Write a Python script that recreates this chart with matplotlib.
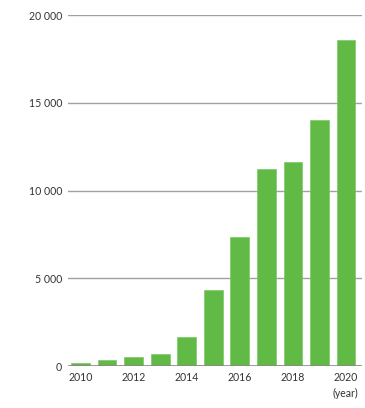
import matplotlib
matplotlib.use("Agg")
import matplotlib.pyplot as plt

years = [2010, 2011, 2012, 2013, 2014, 2015, 2016, 2017, 2018, 2019, 2020]
values = [200, 340, 510, 700, 1670, 4320, 7370, 11200, 11650, 14000, 18590]
yticks = [0, 5000, 10000, 15000, 20000]
ytick_labels = ["0", "5 000", "10 000", "15 000", "20 000"]
xticks = [2010, 2012, 2014, 2016, 2018, 2020]

plt.rcParams['font.family'] = ['Lato', 'DejaVu Sans']

fig = plt.figure(figsize=(3.65, 4.08), dpi=100)
ax = fig.add_axes([0.1855, 0.1029, 0.8063, 0.8603])

ax.bar(years, values, width=0.71, color="#60ba45", edgecolor="#7cc864", linewidth=0.5, zorder=3)

ax.set_xlim(2009.52, 2020.6)
ax.set_ylim(0, 20000)
ax.set_yticks(yticks)
ax.set_yticklabels(ytick_labels)
ax.set_xticks(xticks)
ax.set_xticklabels([str(x) for x in xticks])

for y in yticks[1:]:
    ax.axhline(y, color="#a0a0a0", linewidth=1.0, zorder=1)
ax.axhline(0, color="#888888", linewidth=1.2, zorder=4)

for s in ax.spines.values():
    s.set_visible(False)

ax.tick_params(axis='y', length=0, pad=4, labelsize=7.6, labelcolor="#333333")
ax.tick_params(axis='x', length=0, pad=4, labelsize=7.6, labelcolor="#333333")

fig.text(0.981, 1 - 393/408, "(year)", ha="right", va="center", fontsize=7.6, color="#333333")

fig.savefig("out.png", dpi=100, facecolor="white")
